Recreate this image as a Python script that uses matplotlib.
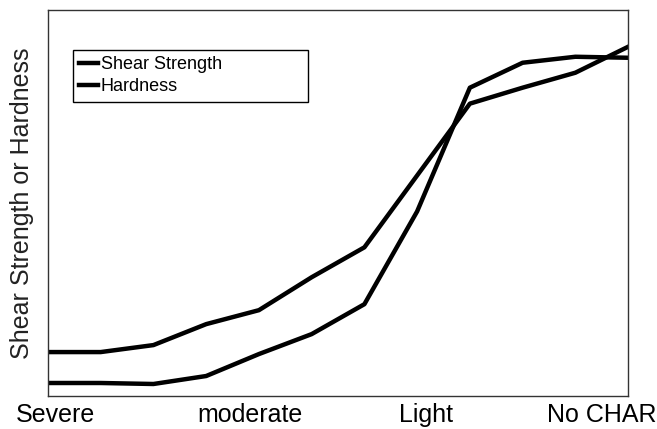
import matplotlib.pyplot as plt

plt.rcParams["font.family"] = ["Liberation Sans", "DejaVu Sans"]

# condition steps along the x axis (0 = severe char, 11 = no char)
steps = list(range(12))
shear_strength = [44, 44, 51, 72, 86, 119, 149, 221, 293, 309, 324, 350]
hardness = [13, 13, 12, 20, 42, 62, 92, 185, 309, 334, 340, 339]

tick_pos = [0.15, 3.83, 7.17, 10.51]
tick_labels = ["Severe", "moderate", "Light", "No CHAR"]

fig = plt.figure(figsize=(6.57, 4.29), dpi=100)
ax = fig.add_axes([0.073, 0.077, 0.883, 0.9])

ax.plot(steps, shear_strength, color="black", lw=3.2, label="Shear Strength")
ax.plot(steps, hardness, color="black", lw=3.2, label="Hardness")

ax.set_xlim(0, 11)
ax.set_ylim(0, 387)
ax.set_yticks([])
ax.set_xticks(tick_pos)
ax.set_xticklabels(tick_labels, fontsize=18)
ax.tick_params(axis="x", length=0, pad=5)
ax.set_ylabel("Shear Strength or Hardness", fontsize=18, color="#222222", labelpad=10)

for s in ax.spines.values():
    s.set_linewidth(1)
    s.set_color("#333333")

leg = ax.legend(loc="upper left", bbox_to_anchor=(0.043, 0.5, 0.405, 0.397),
                mode="expand", borderaxespad=0, fontsize=13,
                handlelength=1.05, handletextpad=0.15, borderpad=0.35,
                labelspacing=0.3, fancybox=False, framealpha=1)
leg.get_frame().set_edgecolor("black")
leg.get_frame().set_linewidth(1)

fig.savefig("out.png")
